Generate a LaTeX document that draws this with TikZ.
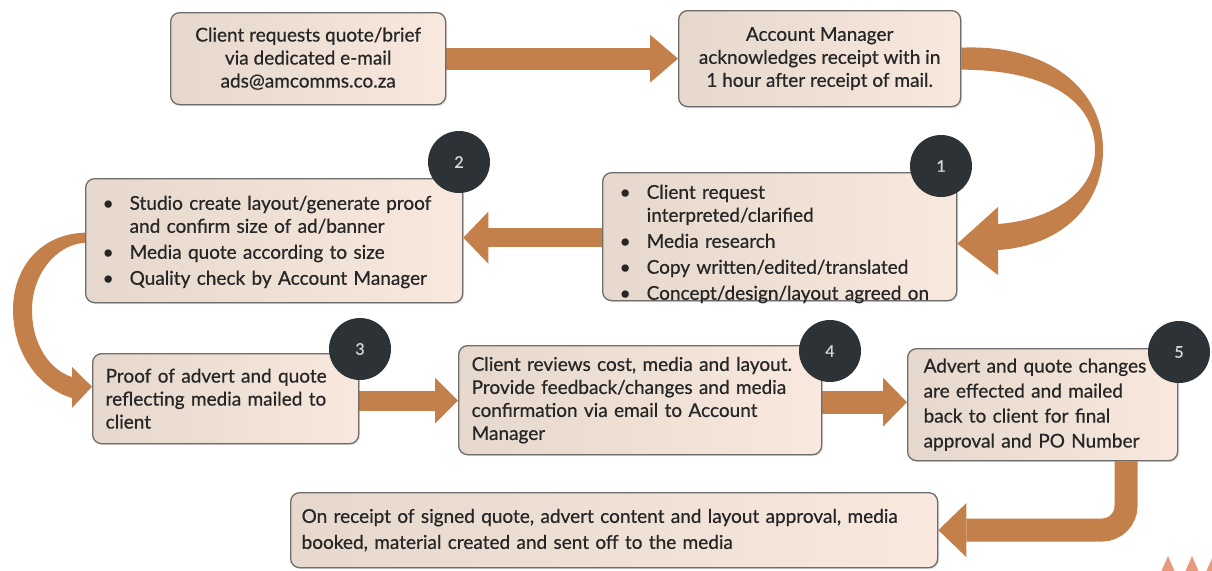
\documentclass[tikz,border=0pt]{standalone}
\usepackage{fontspec}
\setmainfont{Lato}[UprightFeatures={FakeBold=0.6}]
\usetikzlibrary{arrows.meta,calc,shadows}
\pgfdeclarelayer{background}
\pgfsetlayers{background,main}

\definecolor{boxline}{HTML}{6F6D6B}
\definecolor{boxleft}{HTML}{E6D8CC}
\definecolor{boxright}{HTML}{F8E8DD}
\definecolor{flow}{HTML}{C4804A}
\definecolor{badgefill}{HTML}{2D3236}
\definecolor{stamp}{HTML}{E79A7E}

\tikzset{
  stepbox/.style={draw=boxline, line width=1.3pt, rounded corners=9pt,
    left color=boxleft, right color=boxright, anchor=north west,
    inner ysep=0pt, font=\fontsize{19}{23}\selectfont, text=black!85,
    drop shadow={opacity=0.22, shadow xshift=1.5pt, shadow yshift=-1.5pt}},
  badge/.style={circle, fill=badgefill, minimum size=62pt, inner sep=0pt,
    text=white!85!black, font=\fontsize{16}{16}\selectfont},
  flowline/.style={draw=flow, line width=#1},
}

\begin{document}
\begin{tikzpicture}[x=1pt, y=-1pt]
\useasboundingbox (0,0) rectangle (1212,570);

% process steps
\node[stepbox, minimum width=275pt, minimum height=92pt, align=center, inner xsep=2pt] (A) at (170,12)
  {Client requests quote/brief\\via dedicated e-mail\\ads@amcomms.co.za};
\node[stepbox, minimum width=282pt, minimum height=96pt, align=center, inner xsep=2pt] (B) at (678,10)
  {Account Manager\\acknowledges receipt with in\\1 hour after receipt of mail.};
\node[stepbox, minimum height=128pt, text width=320pt, inner xsep=17pt, align=left] (L1) at (602,172)
  {\raisebox{-8pt}[\height][\depth]{\begin{tabular}{@{}p{27pt}@{}l@{}}
   \textbullet & Client request\\
               & interpreted/clarified\\[3pt]
   \textbullet & Media research\\[3pt]
   \textbullet & Copy written/edited/translated\\[3pt]
   \textbullet & Concept/design/layout agreed on
   \end{tabular}}};
\node[stepbox, minimum height=124pt, text width=343pt, inner xsep=17pt, align=left] (L2) at (85,178)
  {\raisebox{-2pt}[\height][\depth]{\begin{tabular}{@{}p{27pt}@{}l@{}}
   \textbullet & Studio create layout/generate proof\\
               & and confirm size of ad/banner\\[3pt]
   \textbullet & Media quote according to size\\[3pt]
   \textbullet & Quality check by Account Manager
   \end{tabular}}};
\node[stepbox, minimum height=90pt, text width=240pt, inner xsep=13pt, align=left] (P3) at (92,353)
  {Proof of advert and quote\\reflecting media mailed to\\client};
\node[stepbox, minimum height=109pt, text width=337pt, inner xsep=13pt, align=left] (P4) at (458,345)
  {Client reviews cost, media and layout.\\Provide feedback/changes and media\\confirmation via email to Account\\Manager};
\node[stepbox, minimum height=112pt, text width=238pt, inner xsep=16pt, align=left,
      font=\fontsize{19}{25}\selectfont] (P5) at (907,348)
  {Advert and quote changes\\are effected and mailed\\back to client for final\\approval and PO Number};
\node[stepbox, minimum height=75pt, text width=625pt, inner xsep=11pt, align=left,
      font=\fontsize{19}{26}\selectfont] (F) at (290,492)
  {On receipt of signed quote, advert content and layout approval, media\\booked, material created and sent off to the media};

% numbered badges
\node[badge] (b1) at (941,166) {1};
\node[badge] (b2) at (459,162) {2};
\node[badge] (b3) at (360,349) {3};
\node[badge] (b4) at (830,351) {4};
\node[badge] (b5) at (1179,352) {5};

\coordinate (elbow) at (1126,530);

\begin{pgfonlayer}{background}
  % straight connectors
  \draw[flowline=22pt, -{Triangle[length=28pt,width=48pt,line width=0pt]}]
    (A.east) -- (A.east -| B.west);
  \draw[flowline=19pt, -{Triangle[length=25pt,width=52pt,line width=0pt]}]
    ($(L1.west)+(0,1)$) -- ($(L1.west -| L2.east)+(0,1)$);
  \draw[flowline=20pt, -{Triangle[length=23pt,width=46pt,line width=0pt]}]
    ($(P3.east)+(0,2)$) -- ($(P3.east -| P4.west)+(0,2)$);
  \draw[flowline=23pt, -{Triangle[length=24pt,width=49pt,line width=0pt]}]
    ($(P4.east)+(0,2)$) -- ($(P4.east -| P5.west)+(0,2)$);
  \draw[flowline=23pt, rounded corners=24pt, -{Triangle[length=28pt,width=54pt,line width=0pt]}]
    (P5.south -| elbow) -- (elbow) -- (F.east);

  % curved connector from the acknowledgement to step 1
  \fill[flow] ($(B.east)+(0,-11)$)
      .. controls (1050,44) and (1103,90) .. (1103,150)
      .. controls (1103,205) and (1062,246) .. (998,250)
      -- (998,275) -- ($(L1.east)+(0,7)$) -- (998,207) -- (998,224)
      .. controls (1052,220) and (1095,192) .. (1095,150)
      .. controls (1095,102) and (1050,70) .. ($(B.east)+(0,11)$) -- cycle;

  % curved connector from step 2 to step 3
  \fill[flow] ($(L2.west)+(0,-8)$)
      .. controls (40,234) and (13,268) .. (13,310)
      .. controls (13,352) and (38,388) .. (72,398)
      -- (72,408) -- ($(P3.west)+(0,-12)$) -- (72,367) -- (72,377)
      .. controls (50,370) and (32,345) .. (32,310)
      .. controls (32,275) and (55,245) .. ($(L2.west)+(0,2)$) -- cycle;
\end{pgfonlayer}

% mark at the lower right edge
\fill[stamp] (1161,572) -- (1168,556) -- (1175,572) -- cycle;
\fill[stamp] (1185,572) -- (1192,556) -- (1199,572) -- cycle;
\fill[stamp] (1206,572) -- (1213,556) -- (1220,572) -- cycle;
\end{tikzpicture}
\end{document}
